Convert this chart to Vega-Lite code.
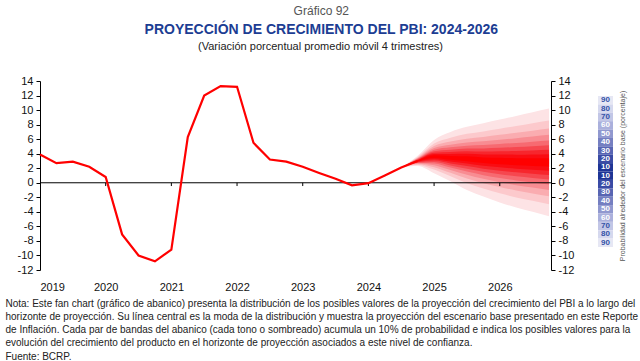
{
  "$schema": "https://vega.github.io/schema/vega-lite/v6.json",
  "padding": {"left": 5, "top": 5, "right": 5, "bottom": 2},
  "bounds": "flush",
  "spacing": 47,
  "config": {
    "font": "Liberation Sans",
    "view": {"stroke": null},
    "axis": {"grid": false}
  },
  "title": {
    "text": "Gráfico 92",
    "subtitle": "PROYECCIÓN DE CRECIMIENTO DEL PBI: 2024-2026",
    "fontSize": 12,
    "fontWeight": "normal",
    "color": "#555555",
    "subtitleFontSize": 14,
    "subtitleFontWeight": "bold",
    "subtitleColor": "#1c3d93",
    "subtitlePadding": 5,
    "anchor": "middle",
    "offset": 2
  },
  "datasets": {
    "gdp": [
      {"t": 2019.0, "v": 3.9}, {"t": 2019.25, "v": 2.7}, {"t": 2019.5, "v": 2.9}, {"t": 2019.75, "v": 2.2},
      {"t": 2020.0, "v": 0.8}, {"t": 2020.25, "v": -7.1}, {"t": 2020.5, "v": -10.0}, {"t": 2020.75, "v": -10.8},
      {"t": 2021.0, "v": -9.2}, {"t": 2021.25, "v": 6.3}, {"t": 2021.5, "v": 12.0}, {"t": 2021.75, "v": 13.3},
      {"t": 2022.0, "v": 13.2}, {"t": 2022.25, "v": 5.5}, {"t": 2022.5, "v": 3.2}, {"t": 2022.75, "v": 2.9},
      {"t": 2023.0, "v": 2.2}, {"t": 2023.25, "v": 1.35}, {"t": 2023.5, "v": 0.55}, {"t": 2023.75, "v": -0.35},
      {"t": 2024.0, "v": -0.05}, {"t": 2024.25, "v": 1.0}, {"t": 2024.5, "v": 2.1}, {"t": 2024.75, "v": 3.0}
    ],
    "fan": [
      {"t": 2024.5, "hi10": 2.1, "hi20": 2.1, "hi30": 2.1, "hi40": 2.1, "hi50": 2.1, "hi60": 2.1, "hi70": 2.1, "hi80": 2.1, "hi90": 2.1,
       "lo10": 2.1, "lo20": 2.1, "lo30": 2.1, "lo40": 2.1, "lo50": 2.1, "lo60": 2.1, "lo70": 2.1, "lo80": 2.1, "lo90": 2.1},
      {"t": 2024.75, "hi10": 3.05, "hi20": 3.11, "hi30": 3.16, "hi40": 3.22, "hi50": 3.29, "hi60": 3.36, "hi70": 3.44, "hi80": 3.55, "hi90": 3.7,
       "lo10": 2.95, "lo20": 2.89, "lo30": 2.84, "lo40": 2.78, "lo50": 2.71, "lo60": 2.64, "lo70": 2.56, "lo80": 2.45, "lo90": 2.3},
      {"t": 2025.0, "hi10": 3.78, "hi20": 3.95, "hi30": 4.14, "hi40": 4.33, "hi50": 4.54, "hi60": 4.78, "hi70": 5.05, "hi80": 5.39, "hi90": 5.9,
       "lo10": 3.42, "lo20": 3.25, "lo30": 3.06, "lo40": 2.87, "lo50": 2.66, "lo60": 2.42, "lo70": 2.15, "lo80": 1.81, "lo90": 1.3},
      {"t": 2025.25, "hi10": 3.68, "hi20": 3.95, "hi30": 4.24, "hi40": 4.55, "hi50": 4.88, "hi60": 5.24, "hi70": 5.67, "hi80": 6.2, "hi90": 7.0,
       "lo10": 3.15, "lo20": 2.91, "lo30": 2.65, "lo40": 2.38, "lo50": 2.09, "lo60": 1.76, "lo70": 1.38, "lo80": 0.91, "lo90": 0.2},
      {"t": 2025.5, "hi10": 3.64, "hi20": 3.98, "hi30": 4.33, "hi40": 4.7, "hi50": 5.1, "hi60": 5.55, "hi70": 6.07, "hi80": 6.73, "hi90": 7.7,
       "lo10": 2.97, "lo20": 2.64, "lo30": 2.29, "lo40": 1.93, "lo50": 1.54, "lo60": 1.1, "lo70": 0.59, "lo80": -0.05, "lo90": -1.0},
      {"t": 2025.75, "hi10": 3.49, "hi20": 3.89, "hi30": 4.29, "hi40": 4.73, "hi50": 5.19, "hi60": 5.71, "hi70": 6.31, "hi80": 7.07, "hi90": 8.2,
       "lo10": 2.72, "lo20": 2.33, "lo30": 1.93, "lo40": 1.51, "lo50": 1.05, "lo60": 0.54, "lo70": -0.05, "lo80": -0.8, "lo90": -1.9},
      {"t": 2026.0, "hi10": 3.44, "hi20": 3.88, "hi30": 4.33, "hi40": 4.82, "hi50": 5.34, "hi60": 5.92, "hi70": 6.59, "hi80": 7.44, "hi90": 8.7,
       "lo10": 2.56, "lo20": 2.12, "lo30": 1.67, "lo40": 1.18, "lo50": 0.66, "lo60": 0.08, "lo70": -0.59, "lo80": -1.44, "lo90": -2.7},
      {"t": 2026.25, "hi10": 3.39, "hi20": 3.87, "hi30": 4.37, "hi40": 4.91, "hi50": 5.48, "hi60": 6.13, "hi70": 6.87, "hi80": 7.81, "hi90": 9.2,
       "lo10": 2.41, "lo20": 1.93, "lo30": 1.43, "lo40": 0.89, "lo50": 0.32, "lo60": -0.33, "lo70": -1.07, "lo80": -2.01, "lo90": -3.4},
      {"t": 2026.5, "hi10": 3.38, "hi20": 3.9, "hi30": 4.45, "hi40": 5.04, "hi50": 5.66, "hi60": 6.36, "hi70": 7.17, "hi80": 8.19, "hi90": 9.7,
       "lo10": 2.32, "lo20": 1.8, "lo30": 1.25, "lo40": 0.66, "lo50": 0.04, "lo60": -0.66, "lo70": -1.47, "lo80": -2.49, "lo90": -4.0},
      {"t": 2026.75, "hi10": 3.37, "hi20": 3.94, "hi30": 4.53, "hi40": 5.16, "hi50": 5.83, "hi60": 6.59, "hi70": 7.46, "hi80": 8.56, "hi90": 10.2,
       "lo10": 2.23, "lo20": 1.66, "lo30": 1.07, "lo40": 0.44, "lo50": -0.23, "lo60": -0.99, "lo70": -1.86, "lo80": -2.96, "lo90": -4.6}
    ],
    "years": [{"yr": 2020}, {"yr": 2021}, {"yr": 2022}, {"yr": 2023}, {"yr": 2024}, {"yr": 2025}, {"yr": 2026}],
    "leg": [
      {"i": 1, "lab": "90"}, {"i": 2, "lab": "80"}, {"i": 3, "lab": "70"}, {"i": 4, "lab": "60"}, {"i": 5, "lab": "50"},
      {"i": 6, "lab": "40"}, {"i": 7, "lab": "30"}, {"i": 8, "lab": "20"}, {"i": 9, "lab": "10"}, {"i": 10, "lab": "10"},
      {"i": 11, "lab": "20"}, {"i": 12, "lab": "30"}, {"i": 13, "lab": "40"}, {"i": 14, "lab": "50"}, {"i": 15, "lab": "60"},
      {"i": 16, "lab": "70"}, {"i": 17, "lab": "80"}, {"i": 18, "lab": "90"}
    ]
  },
  "hconcat": [
    {
      "width": 511,
      "height": 189,
      "resolve": {"axis": {"x": "independent", "y": "independent"}},
      "layer": [
        {"data": {"name": "fan"}, "mark": {"type": "area", "color": "#fde3e5", "interpolate": "monotone"},
         "encoding": {"x": {"field": "t", "type": "quantitative", "scale": {"domain": [2019, 2026.78], "nice": false, "zero": false}, "axis": null},
                      "y": {"field": "lo90", "type": "quantitative", "scale": {"domain": [-12, 14], "nice": false, "zero": false}, "axis": null},
                      "y2": {"field": "hi90"}}},
        {"data": {"name": "fan"}, "mark": {"type": "area", "color": "#fcc9cc", "interpolate": "monotone"},
         "encoding": {"x": {"field": "t", "type": "quantitative", "scale": {"domain": [2019, 2026.78], "nice": false, "zero": false}, "axis": null},
                      "y": {"field": "lo80", "type": "quantitative", "scale": {"domain": [-12, 14], "nice": false, "zero": false}, "axis": null},
                      "y2": {"field": "hi80"}}},
        {"data": {"name": "fan"}, "mark": {"type": "area", "color": "#faacb0", "interpolate": "monotone"},
         "encoding": {"x": {"field": "t", "type": "quantitative", "scale": {"domain": [2019, 2026.78], "nice": false, "zero": false}, "axis": null},
                      "y": {"field": "lo70", "type": "quantitative", "scale": {"domain": [-12, 14], "nice": false, "zero": false}, "axis": null},
                      "y2": {"field": "hi70"}}},
        {"data": {"name": "fan"}, "mark": {"type": "area", "color": "#f88c92", "interpolate": "monotone"},
         "encoding": {"x": {"field": "t", "type": "quantitative", "scale": {"domain": [2019, 2026.78], "nice": false, "zero": false}, "axis": null},
                      "y": {"field": "lo60", "type": "quantitative", "scale": {"domain": [-12, 14], "nice": false, "zero": false}, "axis": null},
                      "y2": {"field": "hi60"}}},
        {"data": {"name": "fan"}, "mark": {"type": "area", "color": "#f76a71", "interpolate": "monotone"},
         "encoding": {"x": {"field": "t", "type": "quantitative", "scale": {"domain": [2019, 2026.78], "nice": false, "zero": false}, "axis": null},
                      "y": {"field": "lo50", "type": "quantitative", "scale": {"domain": [-12, 14], "nice": false, "zero": false}, "axis": null},
                      "y2": {"field": "hi50"}}},
        {"data": {"name": "fan"}, "mark": {"type": "area", "color": "#f6474f", "interpolate": "monotone"},
         "encoding": {"x": {"field": "t", "type": "quantitative", "scale": {"domain": [2019, 2026.78], "nice": false, "zero": false}, "axis": null},
                      "y": {"field": "lo40", "type": "quantitative", "scale": {"domain": [-12, 14], "nice": false, "zero": false}, "axis": null},
                      "y2": {"field": "hi40"}}},
        {"data": {"name": "fan"}, "mark": {"type": "area", "color": "#f7262d", "interpolate": "monotone"},
         "encoding": {"x": {"field": "t", "type": "quantitative", "scale": {"domain": [2019, 2026.78], "nice": false, "zero": false}, "axis": null},
                      "y": {"field": "lo30", "type": "quantitative", "scale": {"domain": [-12, 14], "nice": false, "zero": false}, "axis": null},
                      "y2": {"field": "hi30"}}},
        {"data": {"name": "fan"}, "mark": {"type": "area", "color": "#fa0c12", "interpolate": "monotone"},
         "encoding": {"x": {"field": "t", "type": "quantitative", "scale": {"domain": [2019, 2026.78], "nice": false, "zero": false}, "axis": null},
                      "y": {"field": "lo20", "type": "quantitative", "scale": {"domain": [-12, 14], "nice": false, "zero": false}, "axis": null},
                      "y2": {"field": "hi20"}}},
        {"data": {"name": "fan"}, "mark": {"type": "area", "color": "#ff0000", "interpolate": "monotone"},
         "encoding": {"x": {"field": "t", "type": "quantitative", "scale": {"domain": [2019, 2026.78], "nice": false, "zero": false}, "axis": null},
                      "y": {"field": "lo10", "type": "quantitative", "scale": {"domain": [-12, 14], "nice": false, "zero": false}, "axis": null},
                      "y2": {"field": "hi10"}}},
        {"data": {"values": [{}]}, "mark": {"type": "rule", "color": "#000000", "strokeWidth": 1},
         "encoding": {"y": {"datum": 0, "type": "quantitative", "scale": {"domain": [-12, 14], "nice": false, "zero": false},
                            "axis": {"orient": "right", "values": [-12, -10, -8, -6, -4, -2, 0, 2, 4, 6, 8, 10, 12, 14], "labelExpr": "toString(datum.value)", "domain": true, "domainColor": "#000000", "ticks": true, "tickColor": "#000000", "tickSize": 4, "labelPadding": 3, "labelFontSize": 11, "labelColor": "#111111", "title": null}}}},
        {"data": {"name": "years"}, "mark": {"type": "rule", "color": "#000000", "strokeWidth": 1},
         "encoding": {"x": {"field": "yr", "type": "quantitative", "scale": {"domain": [2019, 2026.78], "nice": false, "zero": false},
                            "axis": {"orient": "top", "domain": false, "ticks": false, "labels": false, "title": "(Variación porcentual promedio móvil 4 trimestres)", "titleFontSize": 11, "titleFontWeight": "normal", "titleColor": "#222222", "titlePadding": 30, "titleX": 280, "titleAlign": "center"}},
                      "y": {"datum": 0, "type": "quantitative", "scale": {"domain": [-12, 14], "nice": false, "zero": false}, "axis": null},
                      "y2": {"datum": -0.45}}},
        {"data": {"name": "gdp"}, "mark": {"type": "line", "color": "#ff0000", "strokeWidth": 2.2},
         "encoding": {"x": {"field": "t", "type": "quantitative", "scale": {"domain": [2019, 2026.78], "nice": false, "zero": false},
                            "axis": {"orient": "bottom", "values": [2019, 2020, 2021, 2022, 2023, 2024, 2025, 2026], "format": "d", "domain": false, "ticks": false, "tickSize": 0, "labelPadding": 11, "labelFontSize": 11, "labelColor": "#111111",
                                     "title": ["Nota: Este fan chart (gráfico de abanico) presenta la distribución de los posibles valores de la proyección del crecimiento del PBI a lo largo del", "horizonte de proyección. Su línea central es la moda de la distribución y muestra la proyección del escenario base presentado en este Reporte", "de Inflación. Cada par de bandas del abanico (cada tono o sombreado) acumula un 10% de probabilidad e indica los posibles valores para la", "evolución del crecimiento del producto en el horizonte de proyección asociados a este nivel de confianza.", "Fuente: BCRP."],
                                     "titleFontSize": 10, "titleFontWeight": "normal", "titleColor": "#222222", "titleAlign": "left", "titleAnchor": "start", "titleX": -35, "titleY": 28, "titleBaseline": "top", "titleLineHeight": 13.3}},
                      "y": {"field": "v", "type": "quantitative", "scale": {"domain": [-12, 14], "nice": false, "zero": false},
                            "axis": {"orient": "left", "values": [-12, -10, -8, -6, -4, -2, 0, 2, 4, 6, 8, 10, 12, 14], "labelExpr": "toString(datum.value)", "domain": true, "domainColor": "#000000", "ticks": true, "tickColor": "#000000", "tickSize": 4, "labelPadding": 3, "labelFontSize": 11, "labelColor": "#111111", "title": null}}}}
      ]
    },
    {
      "width": 15,
      "height": 189,
      "data": {"name": "leg"},
      "resolve": {"axis": {"y": "independent"}},
      "layer": [
        {"mark": {"type": "rect"},
         "encoding": {"y": {"field": "i", "type": "ordinal", "scale": {"type": "band", "domain": [0, 1, 2, 3, 4, 5, 6, 7, 8, 9, 10, 11, 12, 13, 14, 15, 16, 17, 18, 19, 20], "paddingInner": 0, "paddingOuter": 0.765, "align": 0.516},
                            "axis": {"orient": "right", "domain": false, "ticks": false, "labels": false, "title": "Probabilidad alrededor del escenario base (porcentaje)", "titleAngle": 270, "titleBaseline": "top", "titleFontSize": 7, "titleFontWeight": "normal", "titleColor": "#555555", "titlePadding": 5}},
                      "color": {"field": "lab", "type": "nominal", "legend": null,
                                "scale": {"domain": ["10", "20", "30", "40", "50", "60", "70", "80", "90"], "range": ["#1e3596", "#3a4ba5", "#5865b3", "#757fc1", "#9098cf", "#aab0dc", "#c2c6e6", "#d5d8ee", "#e6e7f4"]}}}},
        {"mark": {"type": "text", "fontSize": 8, "fontWeight": "bold"},
         "encoding": {"y": {"field": "i", "type": "ordinal", "scale": {"type": "band", "domain": [0, 1, 2, 3, 4, 5, 6, 7, 8, 9, 10, 11, 12, 13, 14, 15, 16, 17, 18, 19, 20], "paddingInner": 0, "paddingOuter": 0.765, "align": 0.516}, "band": 0.5, "axis": null},
                      "text": {"field": "lab"},
                      "color": {"condition": {"test": "toNumber(datum.lab) >= 70", "value": "#3352a8"}, "value": "#ffffff"}}}
      ]
    }
  ]
}
